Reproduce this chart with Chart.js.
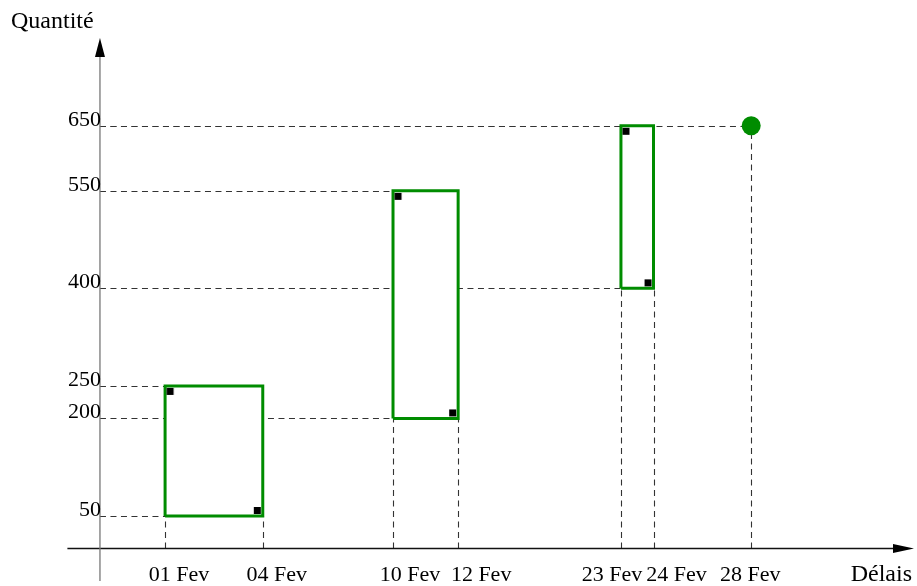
<!DOCTYPE html>
<html>
<head>
<meta charset="utf-8">
<script src="https://cdn.jsdelivr.net/npm/chart.js@4"></script>
<style>
body{margin:0;background:#fff}
canvas{display:block}
</style>
</head>
<body>
<canvas id="chart" width="917" height="586"></canvas>
<script>

// x positions of the dates on the axis (axis units) and their labels
const xPos = [2, 5, 9, 11, 16, 17, 20]
const xLabels = ["01 Fev", "04 Fev", "10 Fev", "12 Fev", "23 Fev", "24 Fev", "28 Fev"]
const yTicks = [50, 200, 250, 400, 550, 650]

// boxes: from date -> to date, low -> high quantity
const boxFrom = [2, 9, 16]
const boxTo = [5, 11, 17]
const boxLow = [50, 200, 400]
const boxHigh = [250, 550, 650]

// final point
const goalX = [20]
const goalY = [650]

const green = "rgb(0,140,0)"
const serif = "'Liberation Serif', 'Times New Roman', serif"
// small nudges of the date labels relative to their tick
const labelShift = [14, 14, 17, 23, -9, 23, -1]

function cornerMark(dx, dy){
  const c = document.createElement("canvas")
  c.width = 24
  c.height = 24
  const g = c.getContext("2d")
  g.fillStyle = "#000"
  g.fillRect(12 + dx, 12 + dy, 7, 7)
  return c
}
const markTL = cornerMark(1.5, 2)
const markBR = cornerMark(-9, -9)

const datasets = []

for(let i=0;i<boxFrom.length;i++){
  datasets.push({
    type:"line",
    data:[
      {x:boxFrom[i], y:boxLow[i]},
      {x:boxTo[i], y:boxLow[i]},
      {x:boxTo[i], y:boxHigh[i]},
      {x:boxFrom[i], y:boxHigh[i]},
      {x:boxFrom[i], y:boxLow[i]}
    ],
    borderColor:green,
    borderWidth:3,
    backgroundColor:"#fff",
    fill:"shape",
    pointRadius:0,
    tension:0,
    order:3
  })
}

datasets.push({
  type:"scatter",
  data:boxFrom.map((v,i)=>({x:v, y:boxHigh[i]})),
  pointStyle:markTL,
  pointRadius:10,
  order:1
})
datasets.push({
  type:"scatter",
  data:boxTo.map((v,i)=>({x:v, y:boxLow[i]})),
  pointStyle:markBR,
  pointRadius:10,
  order:1
})
datasets.push({
  type:"scatter",
  data:goalX.map((v,i)=>({x:v, y:goalY[i]})),
  pointStyle:"circle",
  pointRadius:9.5,
  backgroundColor:green,
  borderWidth:0,
  order:2
})

const guides = {
  id:"guides",
  beforeDatasetsDraw(chart){
    const {ctx, scales:{x, y}, chartArea:a} = chart
    const x0 = x.getPixelForValue(0)
    const y0 = y.getPixelForValue(0)

    ctx.save()
    ctx.setLineDash([6, 4.5])
    ctx.strokeStyle = "#333"
    ctx.lineWidth = 1.1

    function hline(xv, yv){
      const py = Math.round(y.getPixelForValue(yv)) + 0.5
      ctx.beginPath()
      ctx.moveTo(x0, py)
      ctx.lineTo(x.getPixelForValue(xv), py)
      ctx.stroke()
    }
    function vline(xv, yv){
      const px = Math.round(x.getPixelForValue(xv)) + 0.5
      ctx.beginPath()
      ctx.moveTo(px, y0)
      ctx.lineTo(px, y.getPixelForValue(yv))
      ctx.stroke()
    }

    for(let i=0;i<boxFrom.length;i++){
      hline(boxTo[i], boxLow[i])
      hline(boxTo[i], boxHigh[i])
      vline(boxFrom[i], boxLow[i])
      vline(boxTo[i], boxLow[i])
    }
    for(let i=0;i<goalX.length;i++){
      hline(goalX[i], goalY[i])
      vline(goalX[i], goalY[i])
    }
    ctx.setLineDash([])

    // x axis
    ctx.strokeStyle = "#111"
    ctx.lineWidth = 1.3
    ctx.beginPath()
    ctx.moveTo(a.left, y0)
    ctx.lineTo(a.right - 18, y0)
    ctx.stroke()
    ctx.fillStyle = "#000"
    ctx.beginPath()
    ctx.moveTo(a.right, y0)
    ctx.lineTo(a.right - 21, y0 - 4.5)
    ctx.lineTo(a.right - 21, y0 + 4.5)
    ctx.closePath()
    ctx.fill()

    // y axis
    ctx.strokeStyle = "#777"
    ctx.beginPath()
    ctx.moveTo(x0, a.bottom)
    ctx.lineTo(x0, a.top + 16)
    ctx.stroke()
    ctx.beginPath()
    ctx.moveTo(x0, a.top)
    ctx.lineTo(x0 - 5, a.top + 19)
    ctx.lineTo(x0 + 5, a.top + 19)
    ctx.closePath()
    ctx.fill()
    ctx.restore()
  },
  afterDatasetsDraw(chart){
    const {ctx, scales:{x, y}} = chart
    const x0 = x.getPixelForValue(0)
    const y0 = y.getPixelForValue(0)
    ctx.save()
    ctx.fillStyle = "#000"
    ctx.textBaseline = "alphabetic"

    ctx.font = "22px " + serif
    ctx.textAlign = "right"
    yTicks.forEach(v=>{
      ctx.fillText(String(v), x0 + 1, y.getPixelForValue(v))
    })
    ctx.textAlign = "center"
    xPos.forEach((v,i)=>{
      ctx.fillText(xLabels[i], x.getPixelForValue(v) + labelShift[i], y0 + 33)
    })

    ctx.font = "24px " + serif
    ctx.textAlign = "left"
    ctx.fillText("Quantité", 11, 28)
    ctx.textAlign = "right"
    ctx.fillText("Délais", 912, y0 + 33)
    ctx.restore()
  }
}

new Chart(document.getElementById("chart"), {
  type:"scatter",
  data:{datasets},
  options:{
    responsive:false,
    devicePixelRatio:1,
    animation:false,
    layout:{autoPadding:false, padding:{left:67.4, right:3, top:38, bottom:5}},
    plugins:{legend:{display:false}, tooltip:{enabled:false}},
    scales:{
      x:{type:"linear", min:-1, max:25, display:false},
      y:{type:"linear", min:-50, max:785, display:false}
    }
  },
  plugins:[guides]
})

</script>
</body>
</html>
